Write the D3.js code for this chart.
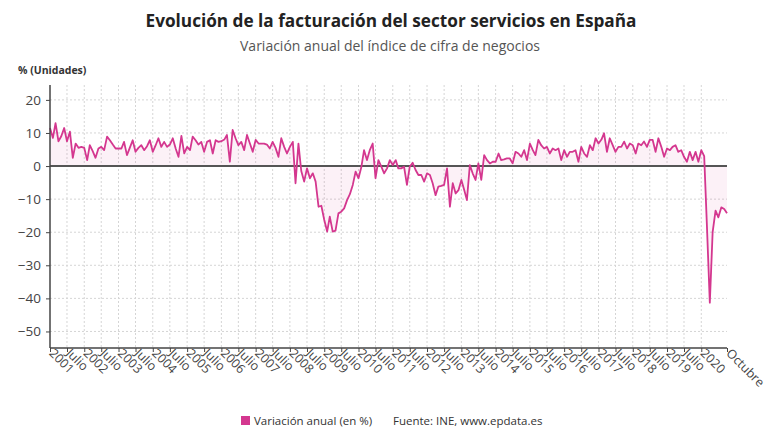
<!DOCTYPE html>
<html>
<head>
<meta charset="utf-8">
<script src="https://cdn.jsdelivr.net/npm/d3@7"></script>
<style>
  body { margin: 0; background: #fff; }
  svg { font-family: "Open Sans", "Noto Sans", sans-serif; }
</style>
</head>
<body>
<div id="chart"></div>
<script>
// monthly annual change (%), Jan 2001 .. Oct 2020
const values = [
  11.5, 8.5, 13, 7.5, 9, 11.5, 7.5, 10.4, 2.5, 6.8, 5.5, 5.8,        // 2001
  5.5, 1.8, 6.3, 4.5, 2.5, 5.3, 5.8, 4.8, 8.9, 7.8, 6.5, 5.3,         // 2002
  5.3, 5.3, 7.3, 3.3, 5.5, 7.8, 4.3, 5.5, 6.3, 4.8, 6.0, 7.8,         // 2003
  4.3, 6.3, 8.4, 5.8, 7.3, 5.8, 6.5, 8.4, 5.3, 2.8, 9.1, 3.8,         // 2004
  5.8, 4.8, 8.9, 7.8, 6.5, 7.3, 4.3, 7.3, 7.8, 3.8, 7.8, 7.3,         // 2005
  7.5, 8.0, 9.4, 1.3, 10.9, 8.4, 6.3, 7.3, 4.8, 9.4, 6.8, 4.3,        // 2006
  7.9, 6.8, 6.8, 6.8, 6.5, 5.3, 7.3, 5.5, 2.8, 8.4, 5.8, 3.8,         // 2007
  5.8, 7.3, -5.2, 6.8, -1.5, -4.7, -0.7, -3.7, -2.2, -4.7, -12.3, -12.0, // 2008
  -16.3, -19.8, -15.3, -19.8, -19.5, -14.3, -13.8, -12.8, -10.3, -8.5, -5.7, -1.7, // 2009
  -3.7, -0.2, 4.8, 1.8, 4.8, 6.8, -3.7, 1.8, -0.2, -2.2, -0.7, 1.8,   // 2010
  0.3, 1.8, -0.7, -0.7, -0.2, -5.7, -0.2, 1.0, -1.2, -2.7, -2.7, -4.7, // 2011
  -2.2, -2.7, -5.2, -8.8, -6.2, -6.0, -5.7, -0.7, -12.3, -5.2, -8.3, -7.3, // 2012
  -4.2, -7.3, -10.3, 0.3, -2.2, -4.2, 0.8, -4.2, 3.3, 1.8, 0.8, 1.3,  // 2013
  1.3, 3.8, 1.8, 2.0, 2.3, 2.3, 0.8, 4.3, 3.8, 2.8, 4.8, 1.8,         // 2014
  6.8, 4.8, 3.3, 7.9, 6.3, 5.3, 5.8, 3.8, 5.3, 4.8, 5.3, 1.8,         // 2015
  4.8, 2.8, 4.3, 4.3, 4.8, 1.3, 5.8, 3.8, 2.8, 6.3, 4.8, 8.4,         // 2016
  6.8, 8.0, 9.9, 4.3, 8.4, 6.3, 4.3, 5.8, 5.8, 7.4, 5.3, 6.8,         // 2017
  6.3, 3.8, 6.8, 6.3, 7.4, 5.8, 7.9, 7.9, 4.3, 8.4, 5.8, 2.8,         // 2018
  5.3, 4.8, 5.8, 6.3, 4.3, 4.8, 2.8, 1.3, 4.3, 1.8, 4.3, 1.3,         // 2019
  4.8, 3.0, -18, -41.3, -20, -13.5, -15.5, -12.5, -13, -14.3          // 2020
];
const yTicks = [20, 10, 0, -10, -20, -30, -40, -50];
const years = d3.range(2001, 2021);
const midLabel = "Julio";
const endLabel = "Octubre";
const seriesName = "Variación anual (en %)";

const width = 780, height = 440;
const color = "#d4378f";

const svg = d3.select("#chart").append("svg")
    .attr("width", width)
    .attr("height", height);

const start = new Date(2001, 0, 1);
const data = values.map((v, i) => ({ date: d3.timeMonth.offset(start, i), value: v }));
const endDate = data[data.length - 1].date;

const x = d3.scaleTime().domain([start, endDate]).range([50, 727]);
const y = d3.scaleLinear().domain([-55, 24.5]).range([348, 85]);

// x ticks: every january and july, plus the last month
let xTicks = [];
years.forEach(yr => {
    xTicks.push({ date: new Date(yr, 0, 1), label: String(yr) });
    const jul = new Date(yr, 6, 1);
    if (jul < d3.timeMonth.offset(endDate, -4)) xTicks.push({ date: jul, label: midLabel });
});
xTicks.push({ date: endDate, label: endLabel });

// titles
svg.append("text")
    .attr("x", 391).attr("y", 27)
    .attr("text-anchor", "middle")
    .style("font-size", "17.2px").style("font-weight", 700).style("fill", "#222")
    .text("Evolución de la facturación del sector servicios en España");
svg.append("text")
    .attr("x", 390).attr("y", 51)
    .attr("text-anchor", "middle")
    .style("font-size", "14px").style("fill", "#555")
    .text("Variación anual del índice de cifra de negocios");
svg.append("text")
    .attr("x", 18).attr("y", 74)
    .style("font-size", "10.5px").style("font-weight", 700).style("fill", "#333")
    .text("% (Unidades)");

// grid
const grid = svg.append("g");
grid.selectAll(".hg").data(yTicks).enter().append("line")
    .attr("x1", 50).attr("x2", 727)
    .attr("y1", d => y(d)).attr("y2", d => y(d))
    .style("stroke", "#d5d5d5").style("stroke-dasharray", "2,2");
grid.selectAll(".vg").data(xTicks.slice(1, -1)).enter().append("line")
    .attr("x1", d => x(d.date)).attr("x2", d => x(d.date))
    .attr("y1", 85).attr("y2", 348)
    .style("stroke", "#d5d5d5").style("stroke-dasharray", "2,2");

// area between line and zero
const area = d3.area()
    .x(d => x(d.date))
    .y0(y(0))
    .y1(d => y(d.value));
svg.append("path").datum(data)
    .attr("d", area)
    .style("fill", color).style("fill-opacity", 0.07);

// zero line
svg.append("line")
    .attr("x1", 50).attr("x2", 727)
    .attr("y1", y(0)).attr("y2", y(0))
    .style("stroke", "#555").style("stroke-width", 2);

// series
const line = d3.line()
    .x(d => x(d.date))
    .y(d => y(d.value));
svg.append("path").datum(data)
    .attr("d", line)
    .style("fill", "none").style("stroke", color).style("stroke-width", 1.8)
    .style("stroke-linejoin", "round");

// y axis
const yAxis = svg.append("g").attr("transform", "translate(50,0)")
    .call(d3.axisLeft(y).tickValues(yTicks).tickSize(4).tickPadding(5));
yAxis.select(".domain").remove();
yAxis.selectAll(".tick line").style("stroke", "#444");
yAxis.selectAll("text").style("font-size", "13.5px").style("fill", "#444")
    .style("font-family", "'Open Sans', sans-serif");
svg.append("line")
    .attr("x1", 50).attr("x2", 50).attr("y1", 85).attr("y2", 348)
    .style("stroke", "#444").style("stroke-width", 1.5);

// x axis
const xAxis = svg.append("g").attr("transform", "translate(0,348)")
    .call(d3.axisBottom(x)
        .tickValues(xTicks.map(d => d.date))
        .tickSize(4)
        .tickFormat((d, i) => xTicks[i].label));
xAxis.select(".domain").style("stroke", "#444").style("stroke-width", 1.5)
    .attr("d", "M50,0H727");
xAxis.selectAll(".tick line").style("stroke", "#444");
xAxis.selectAll("text")
    .style("font-size", "12.5px").style("fill", "#444")
    .style("font-family", "'Open Sans', sans-serif")
    .attr("text-anchor", "start")
    .attr("dy", null).attr("y", 0)
    .attr("transform", "translate(-2,6) rotate(45)");

// legend
const legend = svg.append("g");
legend.append("rect")
    .attr("x", 241).attr("y", 416).attr("width", 9).attr("height", 9)
    .style("fill", color);
legend.append("text")
    .attr("x", 254).attr("y", 425)
    .style("font-size", "11.5px").style("fill", "#333")
    .text(seriesName);
legend.append("text")
    .attr("x", 393).attr("y", 425)
    .style("font-size", "11.5px").style("fill", "#333")
    .text("Fuente: INE, www.epdata.es");
</script>
</body>
</html>
